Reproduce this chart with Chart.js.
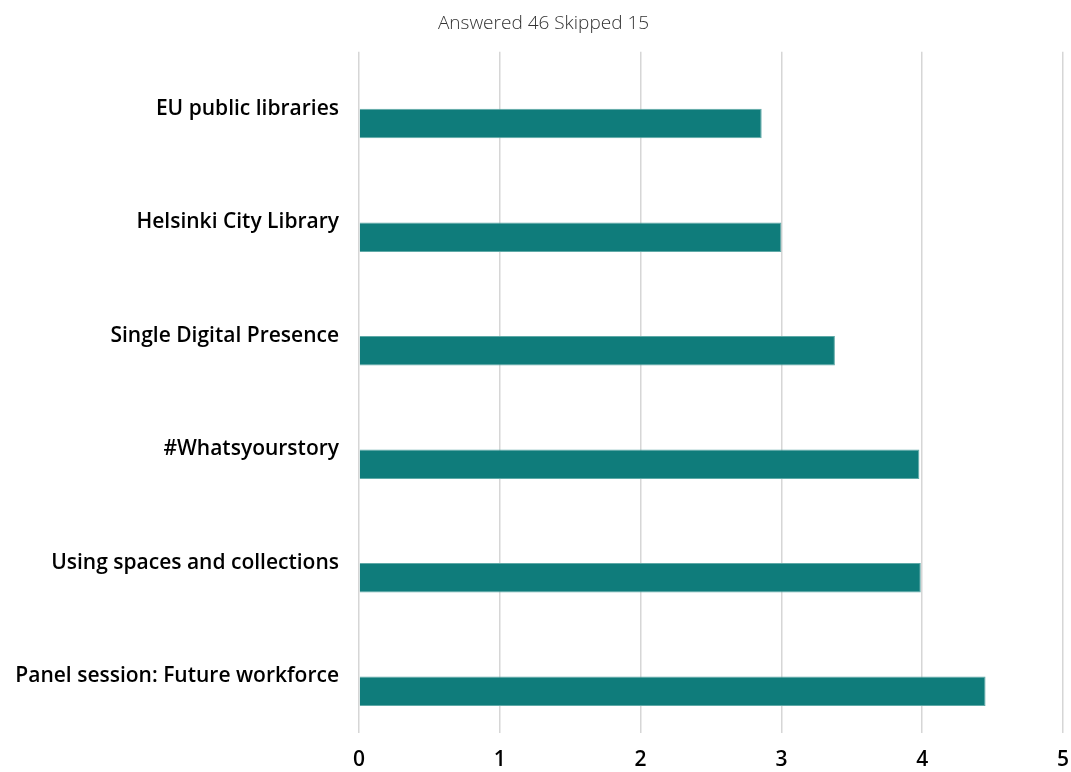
<!DOCTYPE html>
<html>
<head>
<meta charset="utf-8">
<script src="https://cdn.jsdelivr.net/npm/chart.js@4"></script>
<style>
html,body{margin:0;padding:0;background:#fff;}
#wrap{width:1071px;height:772px;}
</style>
</head>
<body>
<div id="wrap"><canvas id="c"></canvas></div>
<script>
const categories = ["EU public libraries","Helsinki City Library","Single Digital Presence","#Whatsyourstory","Using spaces and collections","Panel session: Future workforce"];
const ratings = [2.86, 3.00, 3.38, 3.98, 3.99, 4.45];
const xTicks = [0,1,2,3,4,5];
const titleText = "Answered 46 Skipped 15";

new Chart(document.getElementById('c'), {
  type: 'bar',
  data: {
    labels: categories,
    datasets: [
      { label: 'spacer', data: categories.map(() => null), backgroundColor: 'rgba(0,0,0,0)' },
      { label: 'Rating', data: ratings, backgroundColor: '#0f7c7b', borderColor: '#5fa9a7', borderWidth: 1, borderSkipped: 'left' }
    ]
  },
  options: {
    indexAxis: 'y',
    responsive: true,
    maintainAspectRatio: false,
    animation: false,
    datasets: { bar: { categoryPercentage: 0.53, barPercentage: 0.98 } },
    layout: { padding: { left: 16, right: 0, top: 0, bottom: 0 } },
    plugins: {
      legend: { display: false },
      tooltip: { enabled: false },
      title: {
        display: true, text: titleText, color: '#333',
        font: { family: 'Open Sans', size: 19, weight: '300' },
        padding: { top: 12, bottom: 17 }
      }
    },
    scales: {
      x: {
        min: 0, max: 5,
        afterBuildTicks: (s) => { s.ticks = xTicks.map(v => ({ value: v })); },
        afterFit: (s) => { s.height = 39; s.paddingRight = 8; s.paddingLeft = 0; },
        grid: { color: '#d6d6d6', lineWidth: 1.5, drawTicks: false },
        border: { display: false },
        ticks: { color: '#000', padding: 14, font: { family: 'Open Sans', size: 21, weight: '600' } }
      },
      y: {
        afterFit: (s) => { s.width = 343; },
        grid: { display: false, drawTicks: false },
        border: { display: false },
        ticks: { color: '#000', padding: 20, font: { family: 'Open Sans', size: 21, weight: '600' } }
      }
    }
  }
});
</script>
</body>
</html>
